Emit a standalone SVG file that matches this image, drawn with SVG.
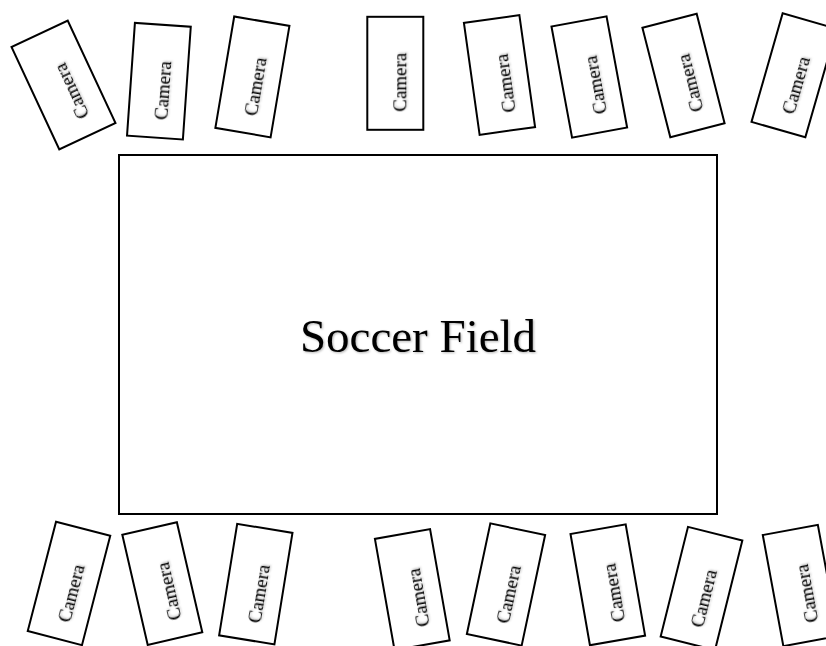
<svg xmlns="http://www.w3.org/2000/svg" width="826" height="646" viewBox="0 0 826 646">
<defs>
<filter id="sh" x="-10%" y="-10%" width="120%" height="130%">
<feDropShadow dx="1" dy="1" stdDeviation="0.8" flood-color="#000" flood-opacity="0.3"/>
</filter>
</defs>
<style>
.box{fill:#fff;stroke:#000;stroke-width:2}
.cam{font-family:"Liberation Serif","Times New Roman",serif;font-size:19px;fill:#000;text-anchor:middle;dominant-baseline:central}
.title{font-family:"Liberation Serif","Times New Roman",serif;font-size:47px;fill:#000;text-anchor:middle}
</style>
<rect width="826" height="646" fill="#fff"/>
<g id="field">
<rect class="box" x="119" y="155" width="598" height="359"/>
<text class="title" x="418" y="352" filter="url(#sh)">Soccer Field</text>
</g>
<g id="cam-t1" transform="translate(63.5,85) rotate(-25)"><rect class="box" x="-31" y="-56.5" width="62" height="113"/><text class="cam" transform="translate(4,9) rotate(-90)" filter="url(#sh)">Camera</text></g>
<g id="cam-t2" transform="translate(158.9,81.2) rotate(4)"><rect class="box" x="-28" y="-56.5" width="56" height="113"/><text class="cam" transform="translate(4,9) rotate(-90)" filter="url(#sh)">Camera</text></g>
<g id="cam-t3" transform="translate(252.4,76.9) rotate(9.6)"><rect class="box" x="-28" y="-56.5" width="56" height="113"/><text class="cam" transform="translate(4,9) rotate(-90)" filter="url(#sh)">Camera</text></g>
<g id="cam-t4" transform="translate(395.3,73.3) rotate(0)"><rect class="box" x="-28" y="-56.5" width="56" height="113"/><text class="cam" transform="translate(4,9) rotate(-90)" filter="url(#sh)">Camera</text></g>
<g id="cam-t5" transform="translate(499.5,75) rotate(-8)"><rect class="box" x="-28" y="-56.5" width="56" height="113"/><text class="cam" transform="translate(4,9) rotate(-90)" filter="url(#sh)">Camera</text></g>
<g id="cam-t6" transform="translate(589.3,77) rotate(-10.5)"><rect class="box" x="-28" y="-56.5" width="56" height="113"/><text class="cam" transform="translate(4,9) rotate(-90)" filter="url(#sh)">Camera</text></g>
<g id="cam-t7" transform="translate(683.5,75.5) rotate(-14.3)"><rect class="box" x="-28" y="-56.5" width="56" height="113"/><text class="cam" transform="translate(4,9) rotate(-90)" filter="url(#sh)">Camera</text></g>
<g id="cam-t8" transform="translate(794,75.3) rotate(16)"><rect class="box" x="-28" y="-56.5" width="56" height="113"/><text class="cam" transform="translate(4,9) rotate(-90)" filter="url(#sh)">Camera</text></g>
<g id="cam-b1" transform="translate(69,583.4) rotate(14.5)"><rect class="box" x="-28" y="-56.5" width="56" height="113"/><text class="cam" transform="translate(4,9) rotate(-90)" filter="url(#sh)">Camera</text></g>
<g id="cam-b2" transform="translate(162.3,583.6) rotate(-13)"><rect class="box" x="-28" y="-56.5" width="56" height="113"/><text class="cam" transform="translate(4,9) rotate(-90)" filter="url(#sh)">Camera</text></g>
<g id="cam-b3" transform="translate(255.8,584.1) rotate(9.2)"><rect class="box" x="-28" y="-56.5" width="56" height="113"/><text class="cam" transform="translate(4,9) rotate(-90)" filter="url(#sh)">Camera</text></g>
<g id="cam-b4" transform="translate(412.3,589.6) rotate(-10)"><rect class="box" x="-28" y="-56.5" width="56" height="113"/><text class="cam" transform="translate(4,9) rotate(-90)" filter="url(#sh)">Camera</text></g>
<g id="cam-b5" transform="translate(506,584.5) rotate(12)"><rect class="box" x="-28" y="-56.5" width="56" height="113"/><text class="cam" transform="translate(4,9) rotate(-90)" filter="url(#sh)">Camera</text></g>
<g id="cam-b6" transform="translate(607.8,584.8) rotate(-9.9)"><rect class="box" x="-28" y="-56.5" width="56" height="113"/><text class="cam" transform="translate(4,9) rotate(-90)" filter="url(#sh)">Camera</text></g>
<g id="cam-b7" transform="translate(701.5,588.5) rotate(14)"><rect class="box" x="-28" y="-56.5" width="56" height="113"/><text class="cam" transform="translate(4,9) rotate(-90)" filter="url(#sh)">Camera</text></g>
<g id="cam-b8" transform="translate(800.6,585.5) rotate(-10.5)"><rect class="box" x="-28" y="-56.5" width="56" height="113"/><text class="cam" transform="translate(4,9) rotate(-90)" filter="url(#sh)">Camera</text></g>
</svg>
